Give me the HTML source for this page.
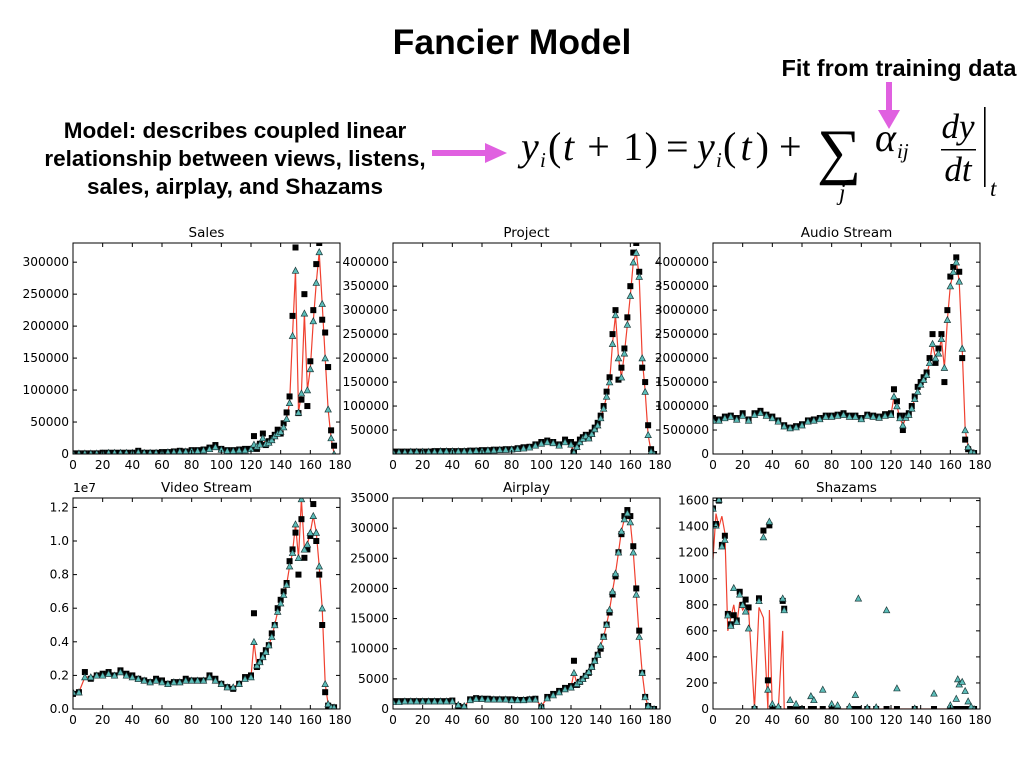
<!DOCTYPE html>
<html><head><meta charset="utf-8"><style>
body{margin:0;background:#fff;width:1024px;height:768px;overflow:hidden}
svg{display:block}
.tk{font-family:"DejaVu Sans","Liberation Sans",sans-serif;font-size:12.2px;fill:#000}
.tt{font-family:"DejaVu Sans","Liberation Sans",sans-serif;font-size:13.5px;fill:#000}
.hd{font-family:"Liberation Sans",sans-serif;font-weight:bold;fill:#000}
.eq{font-family:"Liberation Serif",serif;fill:#000}
</style></head><body>
<svg id="s" width="1024" height="768" xmlns="http://www.w3.org/2000/svg">
<text class="hd" x="512" y="54" font-size="35.5" text-anchor="middle">Fancier Model</text>
<text class="hd" x="899" y="76" font-size="23.5" text-anchor="middle">Fit from training data</text>
<g><rect x="886" y="82" width="6" height="30" fill="#e060e0"/><polygon points="878,110 900,110 889,129" fill="#e060e0"/></g>
<g class="hd" font-size="22.5" text-anchor="middle">
<text x="235" y="138">Model: describes coupled linear</text>
<text x="235" y="166">relationship between views, listens,</text>
<text x="235" y="194">sales, airplay, and Shazams</text></g>
<g><rect x="432" y="150" width="55" height="6" fill="#e060e0"/><polygon points="485,143 485,163 507,153" fill="#e060e0"/></g>
<g class="eq" font-size="40">
<text x="521" y="160" font-style="italic">y</text><text x="540" y="167" font-size="21" font-style="italic">i</text>
<text x="548" y="160" textLength="110" lengthAdjust="spacing">(<tspan font-style="italic">t</tspan> + 1)</text>
<text x="666" y="160">=</text>
<text x="697" y="160" font-style="italic">y</text><text x="716" y="167" font-size="21" font-style="italic">i</text>
<text x="723" y="160" textLength="46" lengthAdjust="spacing">(<tspan font-style="italic">t</tspan>)</text>
<text x="779" y="160">+</text>
<text x="817" y="172" font-size="62">∑</text>
<text x="839" y="200" font-size="23" font-style="italic">j</text>
<text x="875" y="151" font-style="italic">α</text><text x="897" y="158" font-size="21" font-style="italic">ij</text>
<text x="958" y="138" text-anchor="middle" font-style="italic" font-size="35">dy</text>
<rect x="941" y="149" width="35" height="1.5" fill="#000"/>
<text x="958" y="181" text-anchor="middle" font-style="italic" font-size="35">dt</text>
<rect x="984" y="107" width="1.6" height="80" fill="#000"/>
<text x="990" y="196" font-size="23" font-style="italic">t</text>
</g>
<g id="charts"></g>
</svg>
<script>
const days = [0,4,8,12,16,20,24,28,32,36,40,44,48,52,56,60,64,68,72,76,80,84,88,92,96,100,104,108,112,116,120,122,124,126,128,130,132,134,136,138,140,142,144,146,148,150,152,154,156,158,160,162,164,166,168,170,172,174,176];
const xTicks = [0,20,40,60,80,100,120,140,160,180];
const salesActual = [1,1,1,1,1,2,2,2,2,2,2,5,2,2,2,3,3,4,5,4,6,6,7,10,14,8,6,6,7,8,8,28,8,16,32,14,20,25,30,38,32,48,65,90,216,323,64,85,250,75,145,225,297,330,210,190,136,37,13];
const salesPred = [1,1,1,1,1,1,2,2,2,2,2,3,2,2,2,2,3,3,4,4,5,5,6,8,11,7,5,5,6,6,8,15,12,15,25,16,18,22,28,32,35,42,55,80,185,287,65,95,220,100,133,208,268,316,235,150,70,25,0];
const projActual = [5,5,5,5,5,5,5,6,6,6,6,6,6,7,7,8,8,9,9,10,10,12,14,15,20,25,28,25,20,30,25,5,20,30,35,40,35,45,55,65,80,100,130,160,250,300,155,180,220,285,350,420,440,380,180,150,60,10,0];
const projPred = [4,4,4,5,5,5,5,5,6,6,6,6,6,6,7,7,8,8,9,9,10,11,12,14,18,22,25,23,18,25,20,3,15,25,32,38,33,42,52,60,75,95,120,150,230,290,200,160,210,270,330,400,420,370,200,130,40,5,0];
const audioActual = [7.5,7.2,7.8,8,7.5,8.5,7.2,8.5,9,8.2,7.8,7,6,5.5,5.8,6.2,7,7.2,7.5,8,8,8.2,8.5,8,8,7.5,8.2,8,7.8,8.3,8.5,13.5,11,8,5,8,8.5,10,12,14,15,16,17,20,25,19,22,25,15,30,37,39,41,38,20,3,1,0.3,0.2];
const audioPred = [7,7,7.5,7.8,7.2,8,7,8.2,8.6,8,7.5,6.8,5.8,5.4,5.6,6,6.8,7,7.3,7.8,7.8,8,8.2,7.8,7.8,7.3,8,7.8,7.6,8,8.2,12,10,7.5,6,7.6,8.2,9.5,11.5,13,14.5,15.5,16.5,19,23,20,21,24,18,28,35,38,40,36,22,5,1.5,0.5,0.2];
const videoActual = [0.9,1.0,2.2,1.8,2.0,2.1,2.2,2.0,2.3,2.1,2.0,1.8,1.7,1.6,1.8,1.7,1.5,1.6,1.6,1.8,1.7,1.7,1.7,2.0,1.8,1.5,1.3,1.2,1.5,1.9,2.0,5.7,2.5,2.8,3.2,3.5,3.8,4.5,5,6,6.5,7,7.5,8.8,9.5,10.5,8,11.3,9,9.5,10.3,12.2,10,8,5,1,0.2,0.1,0.1];
const videoPred = [1.0,1.0,1.9,1.9,2.0,2.0,2.1,2.0,2.2,2.0,1.9,1.8,1.7,1.6,1.7,1.6,1.5,1.6,1.6,1.7,1.7,1.7,1.7,1.9,1.7,1.5,1.3,1.3,1.5,1.8,1.9,4.0,2.6,2.8,3.1,3.4,3.8,4.3,5,5.8,6.3,6.8,7.4,8.5,9.3,11,9,12.5,9.5,9.8,10.5,11.5,10.5,8.5,6,1.5,0.3,0.1,0.1];
const airActual = [1.3,1.3,1.3,1.3,1.3,1.3,1.3,1.3,1.3,1.3,1.4,0.5,0.3,1.6,1.8,1.7,1.7,1.6,1.6,1.6,1.6,1.5,1.5,1.6,1.7,0.3,2.0,2.5,3.0,3.5,3.8,8,4,4.5,5,5.5,6,7,8,9,10,12,14,16,19,22,26,29,32,33,32,27,20,13,6,2,0.5,0,0];
const airPred = [1.2,1.2,1.3,1.3,1.3,1.3,1.3,1.3,1.3,1.3,1.3,0.7,0.5,1.5,1.7,1.7,1.6,1.6,1.6,1.6,1.5,1.5,1.5,1.6,1.6,0.5,1.8,2.3,2.8,3.3,3.6,6,4.2,4.6,5,5.6,6.2,7,8,9,10.5,12,14,16.5,19.5,22.5,26,29.5,31.5,32.5,31,26,19,12,6,2,0.5,0,0];
const shzDays = [0,2,4,6,8,10,12,14,16,18,20,22,24,28,31,34,37,38,40,44,47,48,52,56,60,66,68,74,80,84,92,96,98,104,110,117,124,136,149,160,164,165,166,168,170,172,174,176];
const shzActual = [1540,1420,1600,1260,1330,730,650,720,680,900,800,840,780,0,850,1370,220,1410,0,0,830,770,0,0,0,0,0,0,0,0,0,0,0,0,0,0,0,0,0,0,0,0,0,0,0,0,0,0];
const shzPred = [1540,1410,1610,1250,1300,720,640,930,670,880,800,750,620,10,830,1320,150,1440,40,20,850,760,70,40,0,100,70,150,40,30,20,110,850,10,15,760,160,5,120,30,80,230,190,210,140,60,20,0];
const shzFit = [1150,1500,1400,1480,1350,600,700,800,650,820,760,800,760,0,780,700,0,760,0,0,600,0,0,0,0,0,0,0,0,0,0,0,0,0,0,0,0,0,0,0,0,0,0,0,0,0,0,0];
const salesTicks = [0,50000,100000,150000,200000,250000,300000];
const projTicks = [50000,100000,150000,200000,250000,300000,350000,400000];
const audioTicks = [0,500000,1000000,1500000,2000000,2500000,3000000,3500000,4000000];
const videoTicks = [0,0.2,0.4,0.6,0.8,1.0,1.2];
const videoTickLabels = ["0.0","0.2","0.4","0.6","0.8","1.0","1.2"];
const airTicks = [0,5000,10000,15000,20000,25000,30000,35000];
const shzTicks = [0,200,400,600,800,1000,1200,1400,1600];

const NS="http://www.w3.org/2000/svg";
const root=document.getElementById('charts');
function mk(tag,attrs,parent){const e=document.createElementNS(NS,tag);for(const k in attrs)e.setAttribute(k,attrs[k]);parent.appendChild(e);return e;}

const panels=[
 {name:'sales',title:'Sales',L:73,T:243,ymax:330000,scale:1000,x:days,a:salesActual,p:salesPred,f:salesPred,ticks:salesTicks},
 {name:'project',title:'Project',L:393,T:243,ymax:440000,scale:1000,x:days,a:projActual,p:projPred,f:projPred,ticks:projTicks},
 {name:'audio-stream',title:'Audio Stream',L:713,T:243,ymax:4400000,scale:100000,x:days,a:audioActual,p:audioPred,f:audioPred,ticks:audioTicks},
 {name:'video-stream',title:'Video Stream',L:73,T:498,ymax:1.256,scale:0.1,x:days,a:videoActual,p:videoPred,f:videoPred,ticks:videoTicks,labels:videoTickLabels,offset:'1e7'},
 {name:'airplay',title:'Airplay',L:393,T:498,ymax:35000,scale:1000,x:days,a:airActual,p:airPred,f:airPred,ticks:airTicks},
 {name:'shazams',title:'Shazams',L:713,T:498,ymax:1620,scale:1,x:shzDays,a:shzActual,p:shzPred,f:shzFit,ticks:shzTicks}
];
const W=267,H=211;
panels.forEach(P=>{
 const g=mk('g',{},root);
 
 
 const xs=v=>P.L+v/180*W, ys=v=>P.T+H-(v*P.scale)/P.ymax*H;
 const cl='clip-'+P.name;
 const cp=mk('clipPath',{id:cl},g);mk('rect',{x:P.L,y:P.T,width:W,height:H},cp);
 const t=mk('text',{x:P.L+W/2,y:P.T-6,'text-anchor':'middle',class:'tt'},g);t.textContent=P.title;
 
 
 const data=mk('g',{'clip-path':'url(#'+cl+')'},g);
 
 
 let d='';P.x.forEach((x,i)=>{d+=(i?'L':'M')+xs(x).toFixed(1)+','+ys(P.f[i]).toFixed(1);});
 const ln=mk('path',{d:d,fill:'none',stroke:'#f0402f','stroke-width':1.2},data);
 
 
 P.x.forEach((x,i)=>{
  const r=mk('rect',{x:xs(x)-3,y:ys(P.a[i])-3,width:6,height:6,fill:'#000'},data);
  
  
 });
 P.x.forEach((x,i)=>{
  const cx=xs(x),cy=ys(P.p[i]);
  const tr=mk('polygon',{points:`${cx-3.2},${cy+2.8} ${cx+3.2},${cy+2.8} ${cx},${cy-3.2}`,fill:'#5cbdb9',stroke:'#1c3a3a','stroke-width':0.7},data);
  
  
 });
 mk('rect',{x:P.L,y:P.T,width:W,height:H,fill:'none',stroke:'#000','stroke-width':1},g);
 xTicks.forEach(v=>{const x=xs(v);
  mk('line',{x1:x,y1:P.T+H,x2:x,y2:P.T+H-4,stroke:'#000'},g);
  mk('line',{x1:x,y1:P.T,x2:x,y2:P.T+4,stroke:'#000'},g);
  const tx=mk('text',{x:x,y:P.T+H+15,'text-anchor':'middle',class:'tk'},g);tx.textContent=v;
  
  
 });
 P.ticks.forEach((v,i)=>{const y=P.T+H-v/P.ymax*H;
  mk('line',{x1:P.L,y1:y,x2:P.L+4,y2:y,stroke:'#000'},g);
  mk('line',{x1:P.L+W,y1:y,x2:P.L+W-4,y2:y,stroke:'#000'},g);
  const ty=mk('text',{x:P.L-4,y:y+4,'text-anchor':'end',class:'tk'},g);ty.textContent=P.labels?P.labels[i]:v;
  
  
 });
 if(P.offset){const o=mk('text',{x:P.L,y:P.T-6,class:'tk'},g);o.textContent=P.offset;
  
  }
});
</script>
</body></html>
